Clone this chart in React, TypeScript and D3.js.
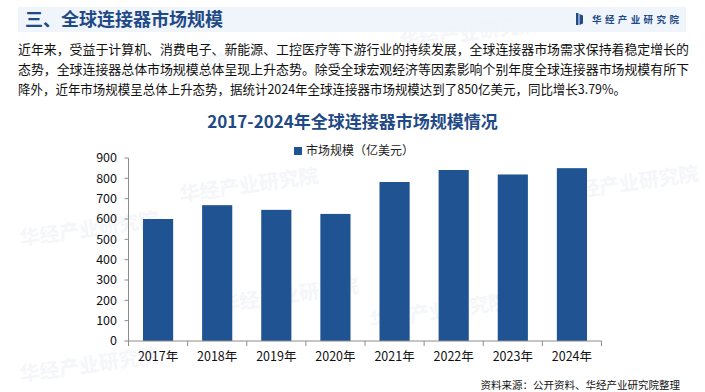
import React from 'react';
import * as d3 from 'd3';

const years = ['2017年', '2018年', '2019年', '2020年', '2021年', '2022年', '2023年', '2024年'];
const marketSize = [600, 668, 645, 625, 782, 841, 819, 850];
const yTicks = [0, 100, 200, 300, 400, 500, 600, 700, 800, 900];

const paragraph = [
  '近年来，受益于计算机、消费电子、新能源、工控医疗等下游行业的持续发展，全球连接器市场需求保持着稳定增长的',
  '态势，全球连接器总体市场规模总体呈现上升态势。除受全球宏观经济等因素影响个别年度全球连接器市场规模有所下',
  '降外，近年市场规模呈总体上升态势，据统计2024年全球连接器市场规模达到了850亿美元，同比增长3.79%。',
];

const watermarks = [
  { x: 470, y: 40 }, { x: 250, y: 192 }, { x: 90, y: 236 }, { x: 440, y: 318 },
  { x: 290, y: 302 }, { x: 630, y: 190 }, { x: 90, y: 372 }, { x: 160, y: 78 },
];

const W = 705;
const H = 392;
const FONT = '"Noto Sans CJK SC", "Liberation Sans", Arial, sans-serif';
const BLUE = '#1f5391';
const DARK = '#1f4a85';

const App: React.FC = () => {
  const x = d3.scaleBand<string>()
    .domain(years)
    .range([128.5, 601.5])
    .paddingInner(0.49)
    .paddingOuter(0.245);

  const y = d3.scaleLinear()
    .domain([0, 900])
    .range([341, 158]);

  const step = x.step();
  const left = 128.5;
  const right = 601.5;

  return (
    <svg width={W} height={H} style={{ position: 'absolute', left: 0, top: 0, background: '#fff' }}>
      {/* 水印 */}
      {watermarks.map((w, i) => (
        <text key={i} x={w.x} y={w.y} transform={`rotate(-8 ${w.x} ${w.y})`}
          fontFamily={FONT} fontSize={20} fontWeight="bold" fill="#c9d3e2" opacity={0.2}
          textAnchor="middle">华经产业研究院</text>
      ))}

      {/* 顶部标题栏 */}
      <rect x={18} y={7} width={668} height={25} fill="#eef3fb" opacity={0.9} />
      <text x={25} y={26} fontFamily={FONT} fontSize={18} fontWeight="bold" fill={DARK}>
        三、全球连接器市场规模
      </text>
      <rect x={576} y={13} width={2.5} height={12} fill={DARK} />
      <path d="M579.5,14 L583,15.5 L583,23.5 L579.5,25 Z" fill={DARK} />
      <text x={592} y={22.5} fontFamily={FONT} fontSize={9.5} fontWeight="bold" fill={DARK}
        letterSpacing={3.4}>华经产业研究院</text>

      {/* 段落 */}
      {paragraph.map((line, i) => (
        <text key={i} x={18} y={54 + i * 20} fontFamily={FONT} fontSize={13} fill="#111"
          textLength={i < 2 ? 671 : 608} lengthAdjust="spacingAndGlyphs">
          {line}
        </text>
      ))}

      {/* 图表标题 */}
      <text x={352.5} y={128} textAnchor="middle" fontFamily={FONT} fontSize={17}
        fontWeight="bold" fill={DARK}>2017-2024年全球连接器市场规模情况</text>

      {/* 图例 */}
      <rect x={294} y={147} width={8} height={8} fill={BLUE} />
      <text x={306} y={155} fontFamily={FONT} fontSize={12} fill="#222">市场规模（亿美元）</text>

      {/* 柱子 */}
      {years.map((yr, i) => (
        <rect key={yr} x={x(yr)} y={y(marketSize[i])} width={x.bandwidth()}
          height={y(0) - y(marketSize[i])} fill={BLUE} />
      ))}

      {/* Y 轴 */}
      <line x1={left} x2={left} y1={y(900)} y2={y(0)} stroke="#8c8c8c" />
      {yTicks.map(t => (
        <g key={t}>
          <line x1={left - 4} x2={left} y1={y(t)} y2={y(t)} stroke="#8c8c8c" />
          <text x={117} y={y(t)} dy="0.35em" textAnchor="end" fontFamily={FONT}
            fontSize={12.5} fill="#111">{t}</text>
        </g>
      ))}

      {/* X 轴 */}
      <line x1={left} x2={right} y1={y(0)} y2={y(0)} stroke="#8c8c8c" />
      {d3.range(years.length + 1).map(i => (
        <line key={i} x1={left + i * step} x2={left + i * step} y1={y(0)} y2={y(0) + 5}
          stroke="#8c8c8c" />
      ))}
      {years.map(yr => (
        <text key={yr} x={(x(yr) as number) + x.bandwidth() / 2} y={361} textAnchor="middle"
          fontFamily={FONT} fontSize={12.5} fill="#111">{yr}</text>
      ))}

      {/* 资料来源 */}
      <text x={680} y={389} textAnchor="end" fontFamily={FONT} fontSize={10.5} fill="#111">
        资料来源：公开资料、华经产业研究院整理
      </text>
    </svg>
  );
};

export default App;
